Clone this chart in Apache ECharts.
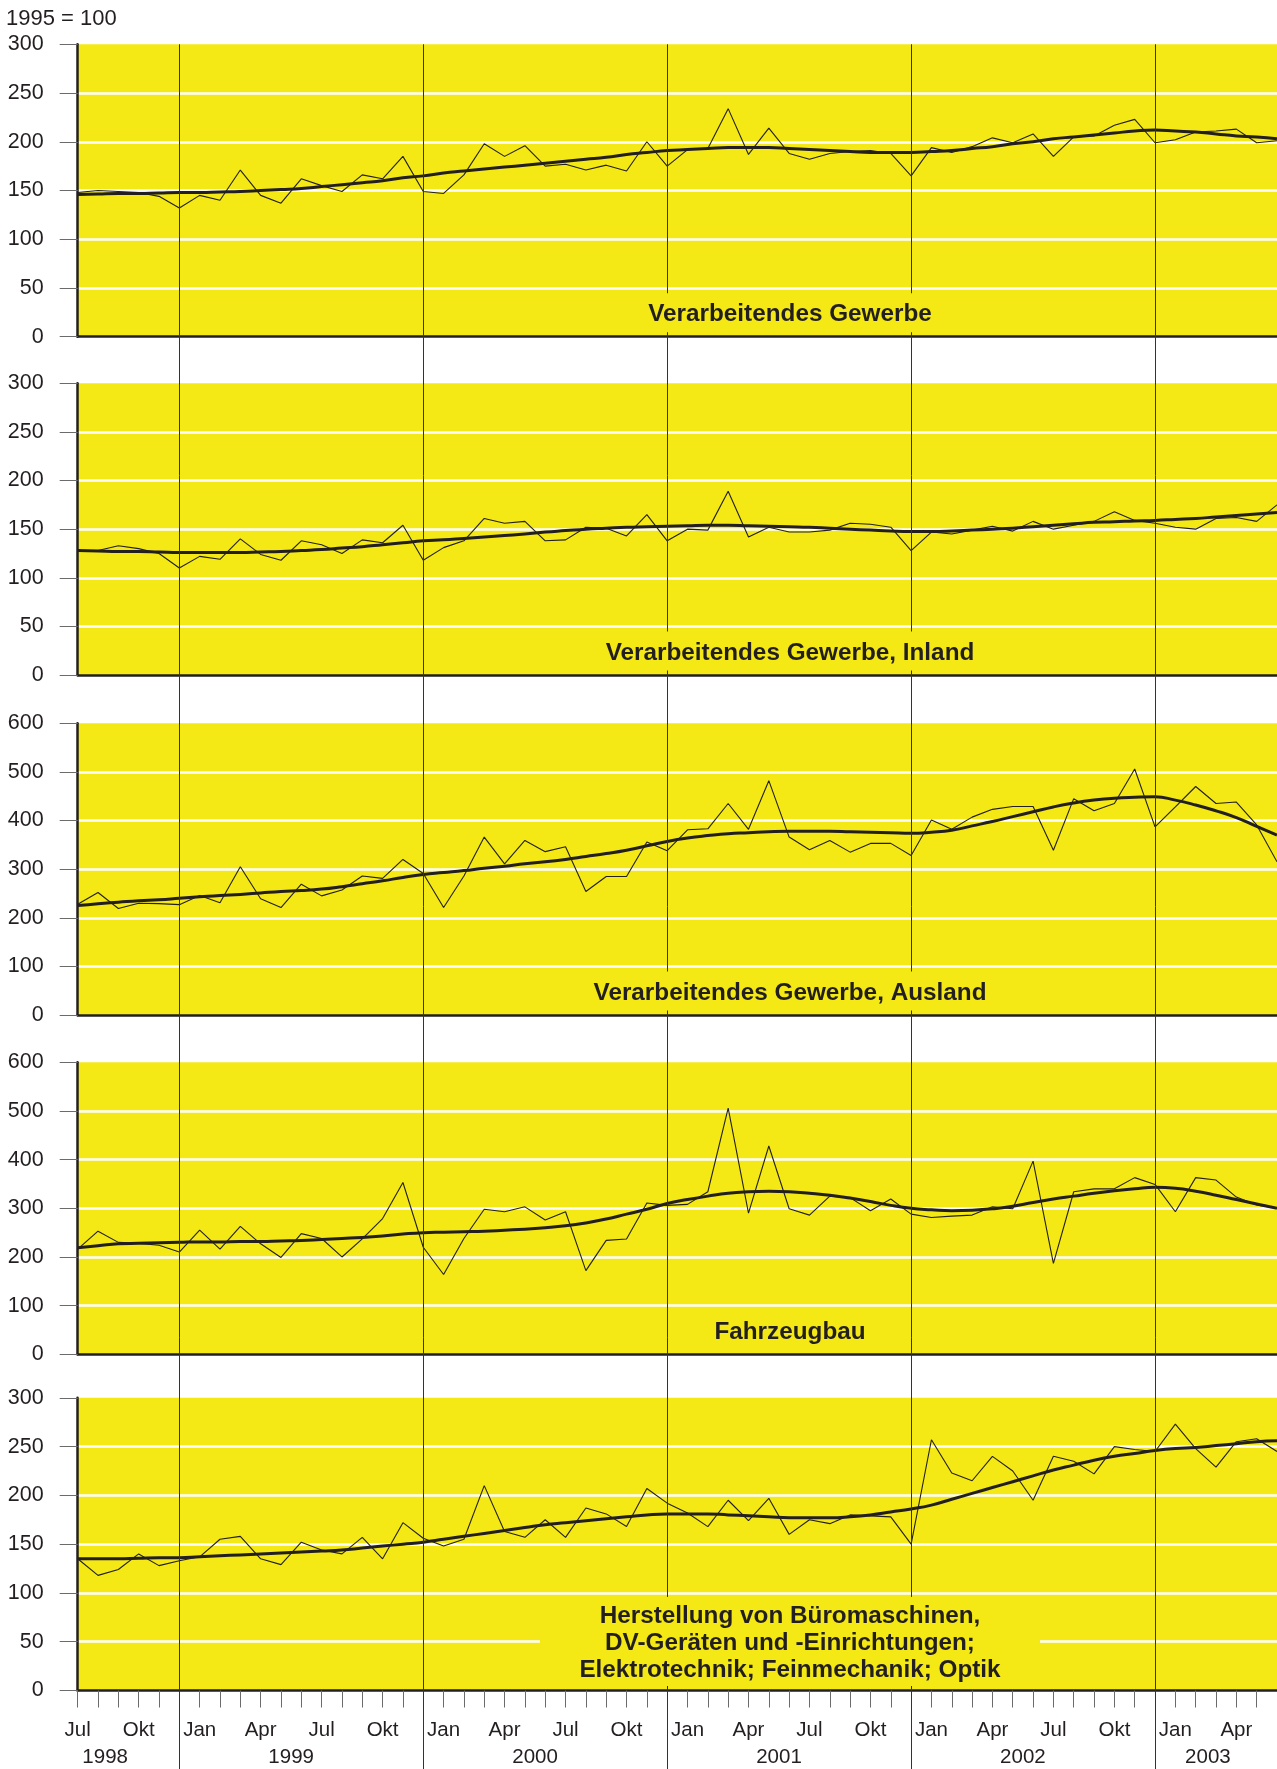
<!DOCTYPE html>
<html>
<head>
<meta charset="utf-8">
<script src="https://cdn.jsdelivr.net/npm/echarts@6/dist/echarts.min.js"></script>
<style>
  html, body { margin: 0; padding: 0; background: #ffffff; }
  #chart { width: 1277px; height: 1769px; }
</style>
</head>
<body>
<div id="chart"></div>
<script>
// Monthly index values, 1995 = 100, July 1998 to June 2003
const monthNames = ['Jan', 'Feb', 'Mär', 'Apr', 'Mai', 'Jun', 'Jul', 'Aug', 'Sep', 'Okt', 'Nov', 'Dez'];
const years = ['1998', '1999', '2000', '2001', '2002', '2003'];
const categories = [];
for (let i = 0; i < 60; i++) {
  const m = (6 + i) % 12;
  categories.push(monthNames[m] + ' ' + (1998 + Math.floor((6 + i) / 12)));
}

const panelTitles = [
  'Verarbeitendes Gewerbe',
  'Verarbeitendes Gewerbe, Inland',
  'Verarbeitendes Gewerbe, Ausland',
  'Fahrzeugbau',
  'Herstellung von Büromaschinen,\nDV-Geräten und -Einrichtungen;\nElektrotechnik; Feinmechanik; Optik'
];

const gewerbeRaw = [148, 150, 149, 148, 144, 132, 145, 140, 171, 145, 137, 162, 155, 149, 166, 162, 185, 149, 147, 166,
  198, 185, 196, 175, 177, 171, 176, 170, 200, 175, 192, 193, 234, 187, 214, 188, 182, 188, 190, 191,
  188, 165, 194, 189, 195, 204, 199, 208, 185, 205, 206, 217, 223, 199, 202, 210, 211, 213, 199, 201];
const gewerbeTrend = [146, 146.5, 147, 147, 147.5, 148, 148, 148.5, 149, 150, 151, 152, 154, 156, 158, 160, 163, 165, 168, 170,
  172, 174, 176, 178, 180, 182, 184, 187, 189, 191, 192, 193, 194, 194, 194, 193, 192, 191, 190, 189,
  189, 189, 190, 191, 193, 195, 198, 200, 203, 205, 207, 209, 211, 212, 211, 210, 208, 206, 205, 203];

const inlandRaw = [128, 128, 133, 130, 125, 110, 122, 119, 140, 124, 118, 138, 134, 125, 139, 136, 154, 118, 131, 138,
  161, 156, 158, 138, 139, 152, 151, 143, 165, 138, 150, 149, 189, 142, 152, 147, 147, 149, 156, 155,
  152, 128, 147, 145, 149, 153, 148, 158, 150, 154, 158, 168, 159, 156, 152, 150, 161, 162, 158, 175];
const inlandTrend = [128, 127.5, 127, 127, 126.5, 126, 126, 126, 126, 126.5, 127, 128, 129, 130.5, 132, 134, 136, 138, 139, 140.5,
  142, 143.5, 145, 147, 148.5, 150, 151, 152, 152.5, 153, 153.5, 154, 154, 153.5, 153, 152.5, 152, 151, 150, 149,
  148, 147.5, 147.5, 148, 149, 150, 151, 152.5, 154, 155.5, 157, 157.5, 158.5, 159, 160, 161, 162.5, 164, 165.5, 167];

const auslandRaw = [228, 252, 219, 230, 229, 227, 246, 231, 305, 239, 221, 269, 245, 257, 286, 281, 320, 291, 221, 286,
  366, 311, 359, 336, 346, 254, 285, 285, 356, 338, 381, 383, 435, 382, 482, 366, 340, 359, 335, 353,
  353, 328, 401, 382, 407, 423, 429, 429, 339, 445, 420, 435, 506, 387, 428, 470, 435, 438, 391, 315];
const auslandTrend = [225, 229, 232, 235, 237, 240, 243, 246, 248, 251, 254, 256, 259, 264, 270, 276, 283, 289, 293, 297,
  302, 306, 311, 315, 320, 326, 332, 339, 348, 357, 364, 369, 373, 375, 377, 378, 378, 378, 377, 376,
  375, 374, 376, 380, 389, 398, 408, 418, 428, 436, 442, 446, 448, 449, 442, 432, 420, 406, 388, 370];

const fahrzeugRaw = [216, 253, 230, 228, 224, 210, 255, 216, 263, 227, 199, 248, 238, 200, 237, 279, 353, 220, 164, 238,
  298, 293, 303, 276, 293, 172, 234, 237, 311, 306, 308, 334, 506, 290, 428, 299, 286, 325, 322, 295,
  319, 288, 281, 284, 286, 303, 299, 397, 187, 334, 340, 340, 363, 349, 293, 363, 358, 323, 307, 300];
const fahrzeugTrend = [219, 223, 227, 228, 229, 230, 231, 231, 232, 232, 233, 234, 236, 238, 240, 243, 247, 250, 251, 252,
  253, 255, 257, 260, 264, 270, 278, 288, 298, 310, 318, 325, 331, 334, 335, 334, 331, 327, 321, 314,
  306, 300, 297, 295, 296, 299, 304, 312, 319, 325, 331, 336, 340, 343, 341, 335, 327, 318, 309, 300];

const bueroRaw = [135, 118, 124, 140, 128, 133, 137, 155, 158, 135, 129, 152, 144, 140, 157, 135, 172, 156, 148, 155,
  210, 163, 157, 175, 157, 187, 181, 168, 207, 192, 182, 168, 195, 174, 197, 160, 175, 171, 180, 179,
  178, 150, 257, 223, 215, 240, 225, 195, 240, 235, 222, 250, 247, 245, 273, 248, 229, 255, 258, 245];
const bueroTrend = [135, 135, 135, 135.5, 136, 136, 137, 138, 139, 140, 141, 142, 143, 144, 146, 148, 150, 152, 155, 158,
  161, 164, 167, 170, 172, 174, 176, 178, 180, 181, 181, 181, 180, 179, 178, 177, 177, 177, 178, 180,
  183, 186, 190, 196, 202, 208, 214, 220, 226, 231, 236, 240, 243, 246, 248, 249, 251, 253, 255, 256];

const panelData = [
  [gewerbeRaw, gewerbeTrend],
  [inlandRaw, inlandTrend],
  [auslandRaw, auslandTrend],
  [fahrzeugRaw, fahrzeugTrend],
  [bueroRaw, bueroTrend]
];
const yMax = [300, 300, 600, 600, 300];
const yStep = [50, 50, 100, 100, 50];

// Layout
const FONT = '"Liberation Sans", Arial, Helvetica, sans-serif';
const INK = '#231f20';
const YELLOW = '#f4e914';
const panelTop = [44.3, 383.3, 723.3, 1062.3, 1397.8];
const panelHeight = [292.4, 291.7, 291.7, 292, 292.7];
const titleBoxHalfWidth = [160, 195, 205, 90, 250];
const yearLabelAt = [1.35, 10.5, 22.5, 34.5, 46.5, 55.6];

const chart = echarts.init(document.getElementById('chart'), null, { renderer: 'canvas' });

const grids = [], xAxes = [], yAxes = [], series = [];
panelData.forEach((pair, i) => {
  const last = i === panelData.length - 1;
  grids.push({
    left: 77.7, width: 1200.65, top: panelTop[i], height: panelHeight[i],
    show: true, backgroundColor: YELLOW, borderWidth: 0
  });
  xAxes.push({
    type: 'category', gridIndex: i, data: categories, boundaryGap: false,
    axisLine: { show: true, lineStyle: { color: INK, width: 2.5 } },
    axisTick: { show: last, interval: 0, length: 17, lineStyle: { color: '#6b6b6b', width: 1 } },
    axisLabel: {
      show: last, interval: 2, margin: 29, fontSize: 20.5, fontFamily: FONT, color: INK,
      formatter: v => v.split(' ')[0]
    },
    splitLine: { show: false }
  });
  yAxes.push({
    type: 'value', gridIndex: i, min: 0, max: yMax[i], interval: yStep[i],
    axisLine: { show: true, lineStyle: { color: INK, width: 2.5 } },
    axisTick: { show: true, length: 18, lineStyle: { color: '#6b6b6b', width: 1 } },
    axisLabel: { margin: 34, fontSize: 21.5, fontFamily: FONT, color: INK },
    splitLine: { show: true, showMinLine: false, showMaxLine: false, lineStyle: { color: '#ffffff', width: 2.5 } }
  });
  series.push({
    type: 'line', xAxisIndex: i, yAxisIndex: i, data: pair[0],
    symbol: 'none', smooth: false, lineStyle: { color: INK, width: 1.1 }, z: 3, silent: true
  });
  series.push({
    type: 'line', xAxisIndex: i, yAxisIndex: i, data: pair[1],
    symbol: 'none', smooth: true, lineStyle: { color: INK, width: 3 }, z: 4, silent: true
  });
});

chart.setOption({
  animation: false,
  backgroundColor: '#ffffff',
  grid: grids, xAxis: xAxes, yAxis: yAxes, series: series
});

// Year separators, panel titles and year labels, placed through the axes
const graphics = [];
const topY = chart.convertToPixel({ yAxisIndex: 0 }, yMax[0]);
categories.forEach((c, idx) => {
  if (c.startsWith('Dez')) {
    const x = Math.round(chart.convertToPixel({ xAxisIndex: 0 }, idx)) + 0.5;
    graphics.push({
      type: 'line', silent: true, z: 50,
      shape: { x1: x, y1: topY, x2: x, y2: 1769 },
      style: { stroke: '#333333', lineWidth: 1 }
    });
  }
});

panelTitles.forEach((t, i) => {
  const base = chart.convertToPixel({ yAxisIndex: i }, 0);
  const lines = t.split('\n').length;
  const cx = 790;
  const boxTop = lines > 1 ? base - 93.5 : base - 43.5;
  graphics.push({
    type: 'rect', silent: true, z: 60,
    shape: { x: cx - titleBoxHalfWidth[i], y: boxTop, width: 2 * titleBoxHalfWidth[i], height: base - 4.5 - boxTop },
    style: { fill: YELLOW }
  });
  const textY = lines > 1 ? base - 47 : base - 22;
  graphics.push({
    type: 'text', silent: true, z: 61,
    style: {
      x: cx, y: textY, text: t, align: 'center', verticalAlign: 'middle',
      font: 'bold 24.3px ' + FONT, fill: INK, lineHeight: 27
    }
  });
});

const x0 = chart.convertToPixel({ xAxisIndex: 4 }, 0);
const x1 = chart.convertToPixel({ xAxisIndex: 4 }, 1);
years.forEach((y, i) => {
  graphics.push({
    type: 'text', silent: true, z: 61,
    style: {
      x: x0 + yearLabelAt[i] * (x1 - x0), y: 1757.5, text: y, align: 'center', verticalAlign: 'middle',
      font: '20.5px ' + FONT, fill: INK
    }
  });
});

graphics.push({
  type: 'text', silent: true, z: 61,
  style: { x: 6, y: 18.5, text: '1995 = 100', align: 'left', verticalAlign: 'middle', font: '22px ' + FONT, fill: INK }
});

chart.setOption({ graphic: graphics });
</script>
</body>
</html>
